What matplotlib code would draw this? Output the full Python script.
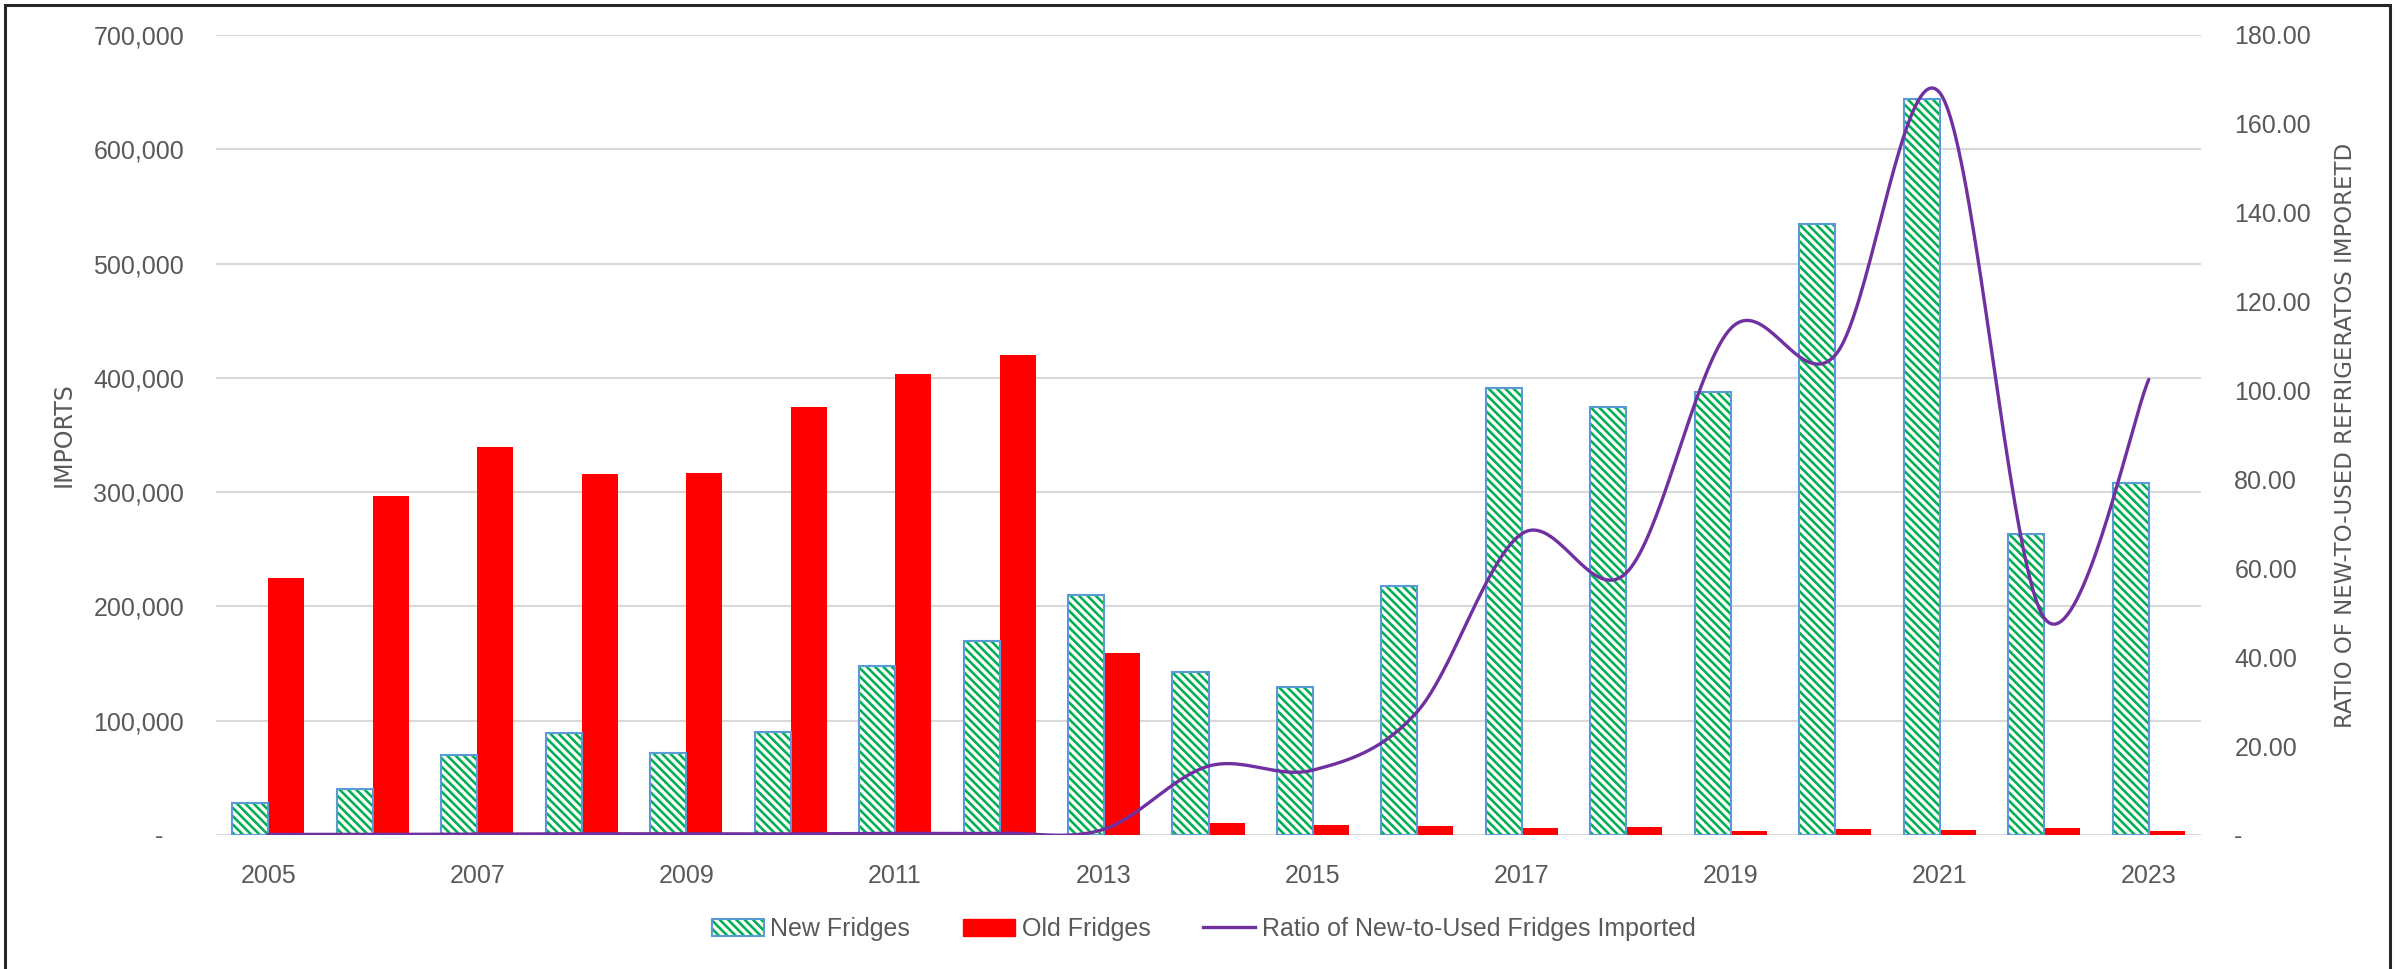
import numpy as np
import matplotlib
matplotlib.use("Agg")
import matplotlib.pyplot as plt
from matplotlib.patches import Patch, Rectangle
from matplotlib.lines import Line2D
from matplotlib.legend_handler import HandlerTuple
from matplotlib.ticker import FixedLocator, FuncFormatter

years = list(range(2005, 2024))
new_fridges = [28300, 40000, 70000, 89000, 71500, 90400, 148100, 169700, 210000, 142900,
               129200, 218200, 390800, 374200, 387900, 534600, 643900, 263400, 308400]
old_fridges = [224600, 296600, 339800, 315900, 317000, 374200, 403600, 419700, 159000, 10200,
               8750, 7900, 5800, 6700, 3800, 4900, 4100, 5800, 3200]
ratio = [0.13, 0.13, 0.21, 0.28, 0.23, 0.24, 0.37, 0.40, 1.3, 15.5,
         14.6, 27.8, 67.8, 59.0, 114.0, 108.0, 167.0, 48.8, 102.5]
xtick_years = [2005, 2007, 2009, 2011, 2013, 2015, 2017, 2019, 2021, 2023]

plt.rcParams['font.family'] = ['Liberation Sans', 'DejaVu Sans']
plt.rcParams['hatch.linewidth'] = 1.85

GREEN = '#00B050'
BLUE = '#5B9BD5'
RED = '#FF0000'
PURPLE = '#7030A0'
GREY = '#595959'
GRID = '#D9D9D9'
FS = 18
HATCH = '\\\\\\\\'

W, H = 2407, 969
fig = plt.figure(figsize=(W / 100, H / 100), dpi=100)
ax = fig.add_axes([216 / W, 1 - 835 / H, (2201 - 216) / W, (835 - 35) / H])

x = np.arange(len(years))
bw = 0.345
ax.bar(x - bw / 2, new_fridges, bw, facecolor='white', edgecolor=GREEN, hatch=HATCH,
       linewidth=0, zorder=3)
ax.bar(x - bw / 2, new_fridges, bw, fill=False, edgecolor=BLUE, linewidth=1.5, zorder=4)
ax.bar(x + bw / 2, old_fridges, bw, color=RED, linewidth=0, zorder=3)

ax.set_xlim(-0.5, len(years) - 0.5)
ax.set_ylim(0, 700000)
ax.yaxis.set_major_locator(FixedLocator(np.arange(0, 700001, 100000)))
ax.yaxis.set_major_formatter(FuncFormatter(lambda v, p: '-   ' if v == 0 else f'{int(v):,}'))
ax.set_xticks([years.index(y) for y in xtick_years])
ax.set_xticklabels([str(y) for y in xtick_years])
ax.grid(axis='y', color=GRID, linewidth=1.5, zorder=0)
ax.set_axisbelow(True)
for s in ax.spines.values():
    s.set_visible(False)
ax.tick_params(axis='both', length=0, labelsize=FS, labelcolor=GREY)
ax.tick_params(axis='y', pad=23)
ax.tick_params(axis='x', pad=21)


def excel_smooth(xs, ys, n=40):
    P = np.column_stack([xs, ys]).astype(float)
    out = []
    m = len(P)
    for i in range(m - 1):
        p0 = P[i - 1] if i > 0 else P[i]
        p1 = P[i]
        p2 = P[i + 1]
        p3 = P[i + 2] if i + 2 < m else P[i + 1]
        c1 = p1 + (p2 - p0) / 6
        c2 = p2 - (p3 - p1) / 6
        t = np.linspace(0, 1, n)[:, None]
        seg = ((1 - t) ** 3) * p1 + 3 * ((1 - t) ** 2) * t * c1 + 3 * (1 - t) * t ** 2 * c2 + t ** 3 * p2
        out.append(seg if i == 0 else seg[1:])
    return np.vstack(out)


ax2 = ax.twinx()
curve = excel_smooth(x, ratio)
ax2.plot(curve[:, 0], curve[:, 1], color=PURPLE, linewidth=2.4, zorder=5, solid_capstyle='round')
ax2.set_ylim(0, 180)
ax2.yaxis.set_major_locator(FixedLocator(np.arange(0, 181, 20)))
ax2.yaxis.set_major_formatter(FuncFormatter(lambda v, p: '-' if v == 0 else f'{v:.2f}'))
for s in ax2.spines.values():
    s.set_visible(False)
ax2.tick_params(axis='y', length=0, labelsize=FS, labelcolor=GREY, pad=24)

# axis titles
ymid = 1 - 435 / H
fig.text(64 / W, ymid, 'IMPORTS', rotation=90, ha='center', va='center',
         fontsize=17, color=GREY, family='DejaVu Sans')
fig.text(2345 / W, ymid, 'RATIO OF NEW-TO-USED REFRIGERATOS IMPORETD', rotation=90,
         ha='center', va='center', fontsize=16.5, color=GREY, family='DejaVu Sans')

# legend
h_new = (Patch(facecolor='white', edgecolor=GREEN, hatch=HATCH, linewidth=0),
         Patch(fill=False, edgecolor=BLUE, linewidth=1.5))
h_old = Patch(facecolor=RED, edgecolor=RED)
h_ratio = Line2D([0], [0], color=PURPLE, linewidth=2.4)
fig.legend([h_new, h_old, h_ratio],
           ['New Fridges', 'Old Fridges', 'Ratio of New-to-Used Fridges Imported'],
           handler_map={tuple: HandlerTuple(ndivide=1)},
           loc='center', bbox_to_anchor=(0.5, 1 - 929 / H), ncol=3, frameon=False,
           fontsize=FS, labelcolor=GREY, handlelength=2.1, handleheight=0.7,
           handletextpad=0.25, columnspacing=2.1)

# outer frame
fig.patches.append(Rectangle((5 / W, -0.05), (2390 - 5) / W, 1.05 - 5 / H,
                             transform=fig.transFigure, fill=False,
                             edgecolor='#262626', linewidth=2.2))

fig.savefig('out.png', dpi=100, facecolor='white')
